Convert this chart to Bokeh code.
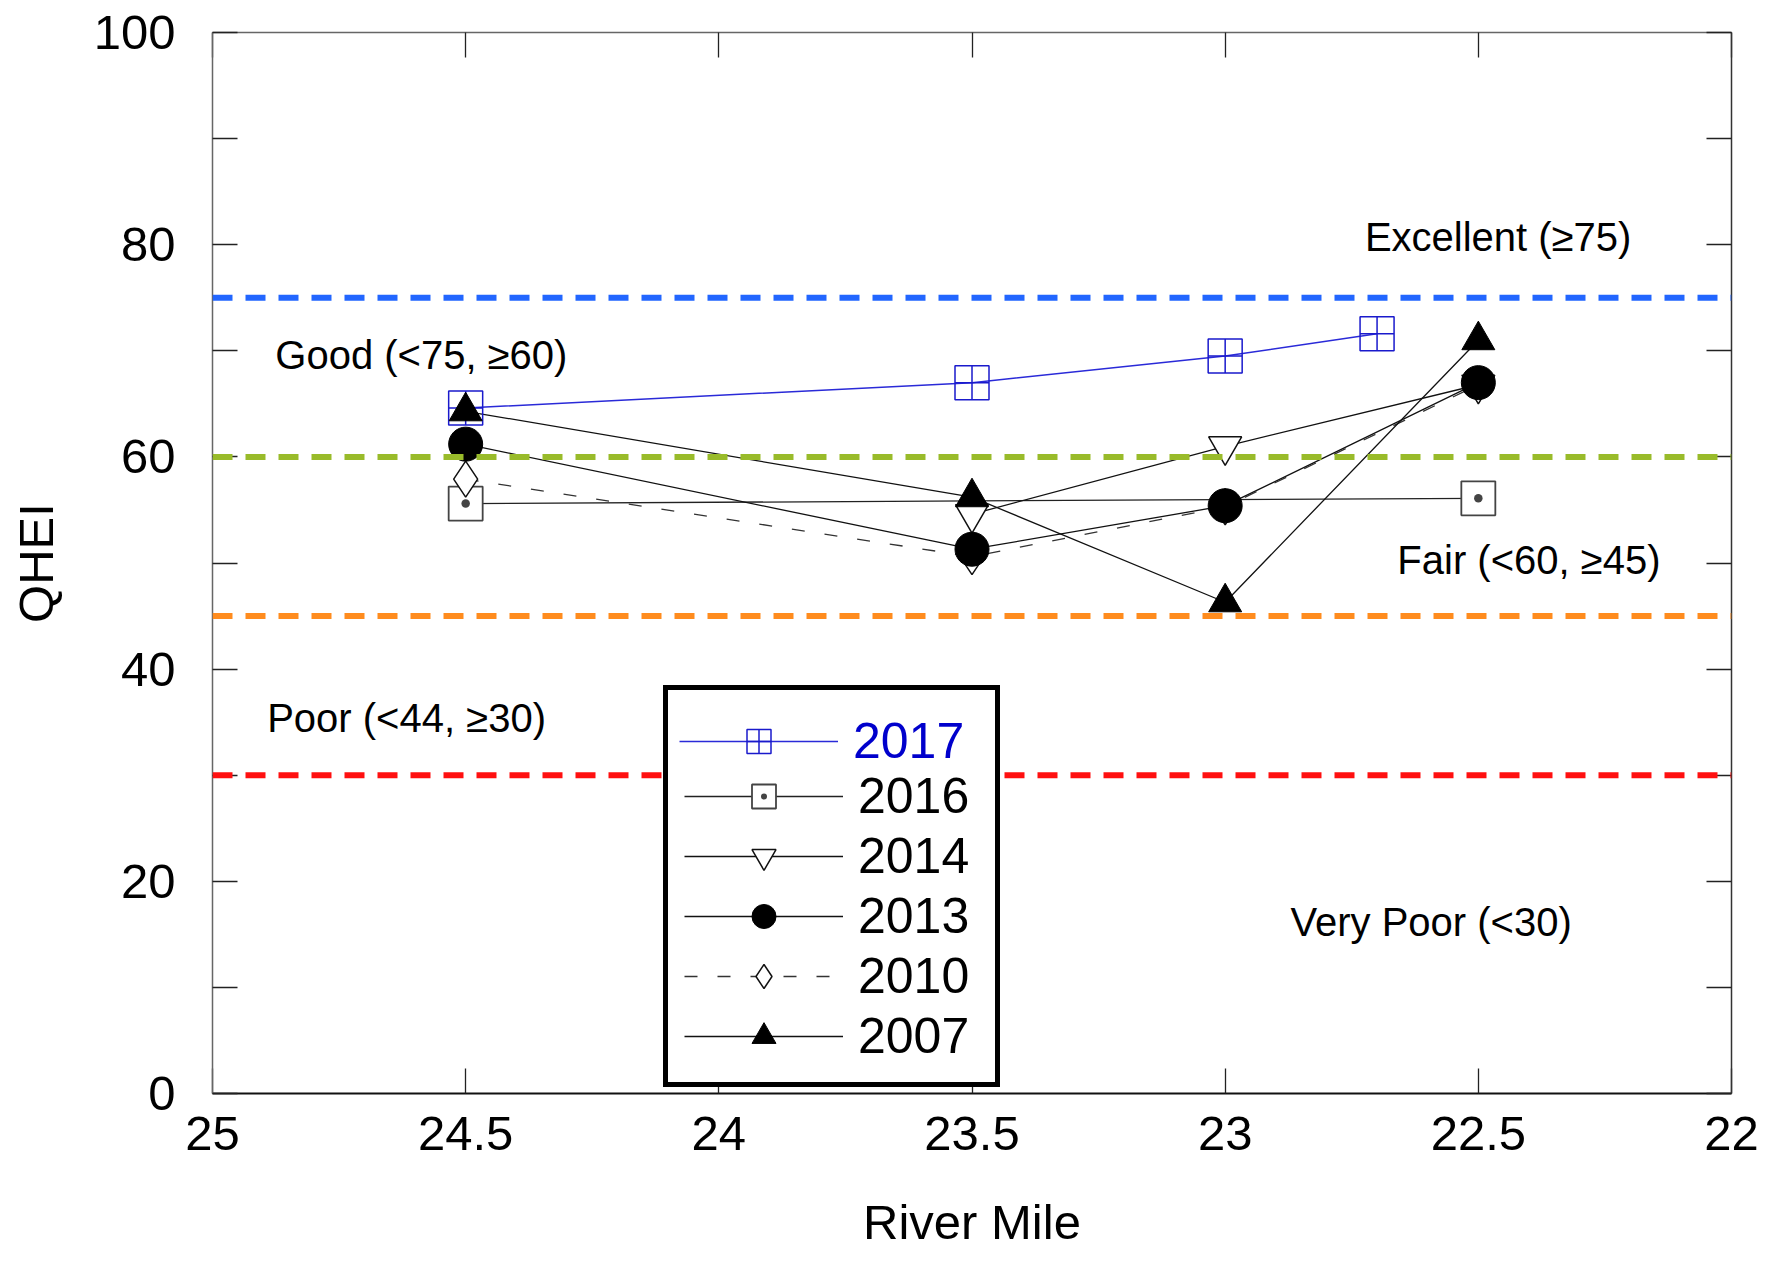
from bokeh.plotting import figure
from bokeh.models import Range1d, FixedTicker, LinearAxis, Legend, LegendItem, Span
from bokeh.core.properties import value
from bokeh.embed import file_html
from bokeh.resources import INLINE

# ---------------- data ----------------
rm_2017 = [24.5, 23.5, 23.0, 22.7]
q_2017 = [64.6, 67.0, 69.5, 71.6]
rm_2016 = [24.5, 22.5]
q_2016 = [55.6, 56.1]
rm_2014 = [23.5, 23.0, 22.5]
q_2014 = [54.6, 61.0, 66.8]
rm_2013 = [24.5, 23.5, 23.0, 22.5]
q_2013 = [61.2, 51.3, 55.4, 67.0]
rm_2010 = [24.5, 23.5, 23.0, 22.5]
q_2010 = [57.9, 50.6, 55.3, 66.8]
rm_2007 = [24.5, 23.5, 23.0, 22.5]
q_2007 = [64.3, 56.2, 46.3, 71.0]

thresholds = [75, 60, 45, 30]
threshold_colors = ["#2266ff", "#99bb2a", "#ff8c1e", "#ff1010"]

x_ticks = [25, 24.5, 24, 23.5, 23, 22.5, 22]
x_tick_labels = ["25", "24.5", "24", "23.5", "23", "22.5", "22"]
y_ticks = [0, 10, 20, 30, 40, 50, 60, 70, 80, 90, 100]
y_tick_labels = ["0", "", "20", "", "40", "", "60", "", "80", "", "100"]

years = ["2017", "2016", "2014", "2013", "2010", "2007"]

class_labels = ["Excellent (\u226575)", "Good (<75, \u226560)", "Fair (<60, \u226545)",
                "Poor (<44, \u226530)", "Very Poor (<30)"]

FONT = "Liberation Sans"

p = figure(width=1763, height=1254, output_backend="svg", toolbar_location=None,
           x_range=Range1d(25, 22), y_range=Range1d(0, 100),
           min_border_left=212, min_border_right=32, min_border_top=32, min_border_bottom=161)
p.grid.visible = False
p.outline_line_color = None
p.background_fill_color = "white"

def style_axis(ax, color="#555555", width=1.5, show_labels=True):
    ax.major_tick_in = 25
    ax.major_tick_out = 0
    ax.minor_tick_in = 0
    ax.minor_tick_out = 0
    ax.axis_line_color = color
    ax.axis_line_width = width
    ax.major_tick_line_color = "#222222"
    ax.major_tick_line_width = 1.3
    ax.major_label_text_font = FONT
    ax.major_label_text_color = "black"
    if show_labels:
        ax.major_label_text_font_size = "49px"
    else:
        ax.major_label_text_font_size = "0px"
        ax.major_label_text_color = None
        ax.major_label_standoff = 0

xax = p.xaxis[0]
xax.ticker = FixedTicker(ticks=x_ticks, minor_ticks=[])
xax.major_label_overrides = dict(zip(x_ticks, x_tick_labels))
style_axis(xax, color="#111111", width=2)
xax.major_label_standoff = 23
xax.axis_label = "River Mile"
xax.axis_label_text_font = FONT
xax.axis_label_text_font_size = "49px"
xax.axis_label_text_font_style = "normal"
xax.axis_label_text_color = "black"
xax.axis_label_standoff = 42

yax = p.yaxis[0]
yax.ticker = FixedTicker(ticks=y_ticks, minor_ticks=[])
yax.major_label_overrides = dict(zip(y_ticks, y_tick_labels))
style_axis(yax, color="#666666", width=1.5)
yax.major_label_standoff = 37
yax.axis_label = "QHEI"
yax.axis_label_text_font = FONT
yax.axis_label_text_font_size = "49px"
yax.axis_label_text_font_style = "normal"
yax.axis_label_text_color = "black"
yax.axis_label_standoff = 28

top = LinearAxis(ticker=FixedTicker(ticks=x_ticks, minor_ticks=[]))
style_axis(top, color="#666666", width=1.5, show_labels=False)
p.add_layout(top, "above")
right = LinearAxis(ticker=FixedTicker(ticks=y_ticks, minor_ticks=[]))
style_axis(right, color="#333333", width=1.5, show_labels=False)
p.add_layout(right, "right")

# threshold lines
for t, c in zip(thresholds, threshold_colors):
    p.add_layout(Span(location=t, dimension="width", line_color=c, line_width=6,
                      line_dash="20 13"))

# class labels
p.text(x=[22.724, 24.876, 22.66, 24.892, 22.871], y=[80.7, 69.6, 50.3, 35.4, 16.2],
       text=class_labels, text_font=value(FONT), text_font_size="40px",
       text_align="left", text_baseline="middle", text_color="black")

# series lines
l17 = p.line(rm_2017, q_2017, line_color="#2a2ad8", line_width=1.5)
l16 = p.line(rm_2016, q_2016, line_color="#222222", line_width=1.3)
l14 = p.line(rm_2014, q_2014, line_color="#111111", line_width=1.3)
l13 = p.line(rm_2013, q_2013, line_color="#111111", line_width=1.3)
l10 = p.line(rm_2010, q_2010, line_color="#333333", line_width=1.3, line_dash="13 20")
l07 = p.line(rm_2007, q_2007, line_color="#111111", line_width=1.3)
# invisible placeholder used only to reserve a legend row
blank = p.line(rm_2017, q_2017, line_alpha=0)

# markers
s17 = p.scatter(rm_2017, q_2017, marker="square_cross", size=34, line_color="#1a1acc",
                line_width=1.5, fill_color="white", fill_alpha=0.0)
s16 = p.scatter(rm_2016, q_2016, marker="square_dot", size=34, line_color="#444444",
                line_width=1.8, fill_color="white")
s10 = p.scatter(rm_2010, q_2010, marker="diamond", size=36, line_color="#111111",
                line_width=1.5, fill_color="white")
s14 = p.scatter(rm_2014, q_2014, marker="inverted_triangle", size=33, line_color="#111111",
                line_width=1.5, fill_color="white")
s13 = p.scatter(rm_2013, q_2013, marker="circle", size=34, line_color="black",
                fill_color="black")
s07 = p.scatter(rm_2007, q_2007, marker="triangle", size=33, line_color="black",
                fill_color="black")

leg_kw = dict(padding=16, margin=0, spacing=0, glyph_width=159, glyph_height=60,
              label_height=58, label_width=121, label_standoff=15,
              label_text_font=FONT, label_text_font_size="50px",
              location=(451, 6), border_line_width=5)

series = [[l17, s17], [l16, s16], [l14, s14], [l13, s13], [l10, s10], [l07, s07]]

# black-text legend (first row left empty)
legB = Legend(items=[LegendItem(label=" ", renderers=[blank])] +
              [LegendItem(label=y, renderers=r) for y, r in zip(years[1:], series[1:])],
              border_line_color="black", border_line_alpha=1.0,
              background_fill_color="white", background_fill_alpha=1.0,
              label_text_color="black", **leg_kw)
p.add_layout(legB)

# identical-size overlay carrying the blue 2017 row
legA = Legend(items=[LegendItem(label=years[0], renderers=series[0])] +
              [LegendItem(label=" ", renderers=[blank]) for _ in years[1:]],
              border_line_alpha=0, background_fill_alpha=0,
              label_text_color="#0000cc", **leg_kw)
p.add_layout(legA)

open("out.html", "w").write(file_html(p, INLINE))
